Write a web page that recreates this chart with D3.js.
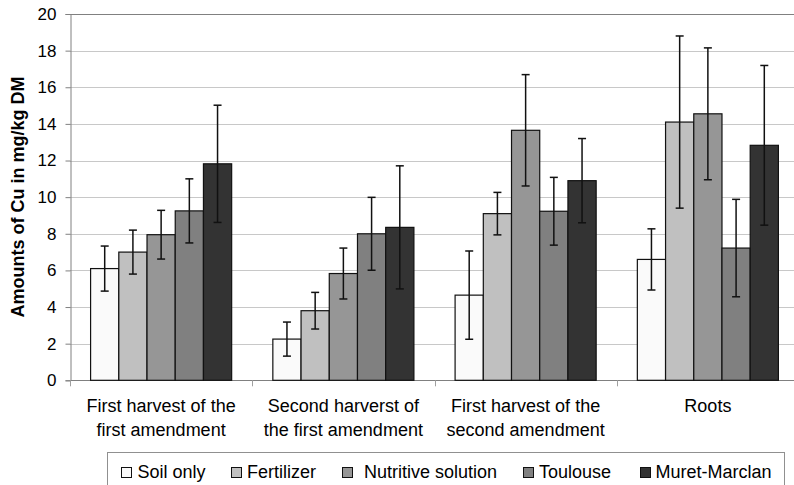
<!DOCTYPE html>
<html>
<head>
<meta charset="utf-8">
<script src="https://cdnjs.cloudflare.com/ajax/libs/d3/7.8.5/d3.min.js"></script>
<style>
  body { margin: 0; background: #fff; }
  svg { display: block; font-family: "Liberation Sans", Arial, sans-serif; }
</style>
</head>
<body>
<svg id="chart" width="794" height="485"></svg>
<script>
// categories (two-line labels)
const categories = [
  ["First harvest of the", "first amendment"],
  ["Second harverst of", "the first amendment"],
  ["First harvest of the", "second amendment"],
  ["Roots"]
];
const series = ["Soil only", "Fertilizer", "Nutritive solution", "Toulouse", "Muret-Marclan"];
const colors = ["#fafafa", "#c0c0c0", "#969696", "#808080", "#333333"];

// means per series, one value per category
const soilOnly   = [6.1, 2.25, 4.65, 6.6];
const fertilizer = [7.0, 3.8, 9.1, 14.1];
const nutritive  = [7.95, 5.83, 13.65, 14.55];
const toulouse   = [9.25, 8.0, 9.23, 7.22];
const muret      = [11.82, 8.35, 10.9, 12.83];

// error bar half-widths
const errSoil      = [1.23, 0.93, 2.41, 1.67];
const errFert      = [1.2, 1.0, 1.16, 4.7];
const errNutritive = [1.33, 1.39, 3.04, 3.6];
const errToulouse  = [1.75, 1.99, 1.85, 2.66];
const errMuret     = [3.2, 3.36, 2.3, 4.36];

const yTicks = [0, 2, 4, 6, 8, 10, 12, 14, 16, 18, 20];

const values = [soilOnly, fertilizer, nutritive, toulouse, muret];
const errors = [errSoil, errFert, errNutritive, errToulouse, errMuret];

const svg = d3.select("#chart");
const plotLeft = 70, plotRight = 799, plotTop = 14, plotBottom = 380.3;

const x0 = d3.scaleBand().domain(d3.range(categories.length)).range([plotLeft, plotRight]);
const bw = x0.bandwidth();
const x1 = d3.scaleBand().domain(d3.range(series.length)).range([bw * 0.113, bw * 0.887]);
const y = d3.scaleLinear().domain([0, 20]).range([plotBottom, plotTop]);

// gridlines
svg.append("g")
  .selectAll("line")
  .data(yTicks.filter(d => d > 0 && d < 20))
  .join("line")
  .attr("x1", plotLeft).attr("x2", plotRight)
  .attr("y1", d => Math.round(y(d)) + 0.5).attr("y2", d => Math.round(y(d)) + 0.5)
  .attr("stroke", "#c8c8c8").attr("stroke-width", 1);

// top border
svg.append("line")
  .attr("x1", plotLeft).attr("x2", plotRight)
  .attr("y1", Math.round(y(20)) + 0.5).attr("y2", Math.round(y(20)) + 0.5)
  .attr("stroke", "#808080").attr("stroke-width", 1.2);

// y axis
const yAxis = svg.append("g")
  .attr("transform", `translate(${plotLeft + 0.5},0)`)
  .call(d3.axisLeft(y).tickValues(yTicks).tickSize(5).tickPadding(9));
yAxis.select(".domain").attr("stroke", "#808080");
yAxis.selectAll(".tick line").attr("stroke", "#808080");
yAxis.selectAll(".tick text")
  .attr("font-size", 17).attr("fill", "#000")
  .attr("font-family", "Liberation Sans, Arial, sans-serif");

// x axis line and category ticks
svg.append("line")
  .attr("x1", plotLeft).attr("x2", plotRight)
  .attr("y1", Math.round(plotBottom) + 0.5).attr("y2", Math.round(plotBottom) + 0.5)
  .attr("stroke", "#808080");
svg.append("g")
  .selectAll("line")
  .data(d3.range(categories.length + 1))
  .join("line")
  .attr("x1", d => Math.round(plotLeft + d * bw) + 0.5)
  .attr("x2", d => Math.round(plotLeft + d * bw) + 0.5)
  .attr("y1", plotBottom).attr("y2", plotBottom + 6)
  .attr("stroke", "#a0a0a0");

// bars
const groups = svg.append("g")
  .selectAll("g")
  .data(categories.map((c, i) => i))
  .join("g")
  .attr("transform", i => `translate(${x0(i)},0)`);

groups.selectAll("rect")
  .data(i => series.map((s, j) => ({ j, v: values[j][i], e: errors[j][i] })))
  .join("rect")
  .attr("x", d => x1(d.j))
  .attr("y", d => y(d.v))
  .attr("width", x1.bandwidth())
  .attr("height", d => y(0) - y(d.v))
  .attr("fill", d => colors[d.j])
  .attr("stroke", "#111")
  .attr("stroke-width", 1.2);

// error bars
const eb = groups.selectAll("g.err")
  .data(i => series.map((s, j) => ({ j, v: values[j][i], e: errors[j][i] })))
  .join("g")
  .attr("class", "err")
  .attr("stroke", "#111")
  .attr("stroke-width", 1.5);
eb.append("line")
  .attr("x1", d => x1(d.j) + x1.bandwidth() / 2)
  .attr("x2", d => x1(d.j) + x1.bandwidth() / 2)
  .attr("y1", d => y(d.v + d.e)).attr("y2", d => y(d.v - d.e));
eb.selectAll("line.cap")
  .data(d => [d.v + d.e, d.v - d.e].map(t => ({ j: d.j, t })))
  .join("line")
  .attr("class", "cap")
  .attr("x1", d => x1(d.j) + x1.bandwidth() / 2 - 4)
  .attr("x2", d => x1(d.j) + x1.bandwidth() / 2 + 4)
  .attr("y1", d => y(d.t)).attr("y2", d => y(d.t));

// y axis title
svg.append("text")
  .attr("transform", "translate(24,197) rotate(-90)")
  .attr("text-anchor", "middle")
  .attr("font-size", 18).attr("font-weight", "bold")
  .text("Amounts of Cu in mg/kg DM");

// category labels
const labels = svg.append("g")
  .selectAll("text")
  .data(categories)
  .join("text")
  .attr("text-anchor", "middle")
  .attr("font-size", 18)
  .attr("x", (d, i) => x0(i) + bw / 2)
  .attr("y", 412);
labels.selectAll("tspan")
  .data(d => d)
  .join("tspan")
  .attr("x", function () { return this.parentNode.getAttribute("x"); })
  .attr("dy", (d, k) => k === 0 ? 0 : 23.5)
  .text(d => d);

// legend
svg.append("rect")
  .attr("x", 107.5).attr("y", 452.5)
  .attr("width", 677).attr("height", 60)
  .attr("fill", "#fff").attr("stroke", "#909090");
const legendX = [121, 231, 342, 523, 640];
const legendTextX = [137.5, 247, 364, 539, 655.5];
const leg = svg.append("g")
  .selectAll("g")
  .data(series)
  .join("g");
leg.append("rect")
  .attr("x", (d, i) => legendX[i] + 0.5).attr("y", 467.5)
  .attr("width", 10).attr("height", 10)
  .attr("fill", (d, i) => colors[i]).attr("stroke", "#111");
leg.append("text")
  .attr("x", (d, i) => legendTextX[i]).attr("y", 478)
  .attr("font-size", 18)
  .text(d => d);
</script>
</body>
</html>
